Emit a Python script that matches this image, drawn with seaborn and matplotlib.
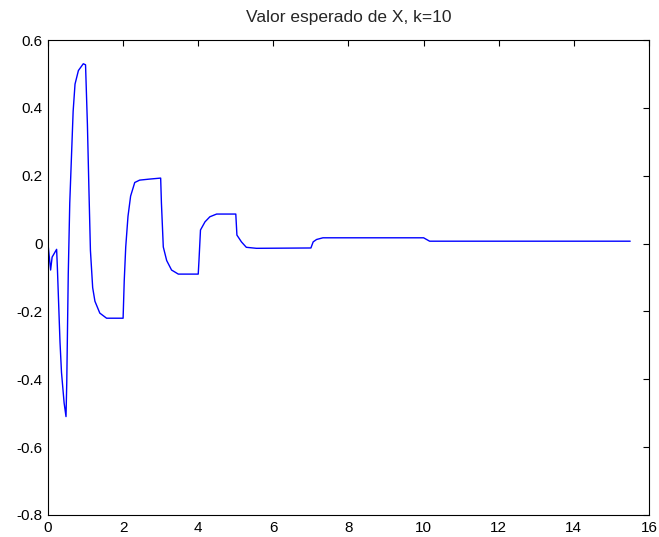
import numpy as np
import pandas as pd
import matplotlib
matplotlib.use('Agg')
import matplotlib.pyplot as plt
import seaborn as sns

# 数据
t = [0, 0.07, 0.11, 0.23, 0.25, 0.32, 0.36, 0.43, 0.48, 0.5, 0.54, 0.58, 0.63,
     0.67, 0.72, 0.81, 0.94, 1.0, 1.05, 1.09, 1.13, 1.19, 1.25, 1.38, 1.56, 2.0,
     2.03, 2.07, 2.13, 2.2, 2.31, 2.44, 2.7, 3.0, 3.02, 3.07, 3.16, 3.29, 3.47,
     4.0, 4.02, 4.06, 4.18, 4.31, 4.49, 5.0, 5.03, 5.15, 5.28, 5.55, 7.0, 7.06,
     7.15, 7.32, 10.0, 10.16, 15.5]
valor = [0, -0.078, -0.04, -0.017, -0.07, -0.29, -0.38, -0.47, -0.51, -0.41,
         -0.09, 0.12, 0.27, 0.39, 0.47, 0.51, 0.53, 0.527, 0.35, 0.16, -0.02,
         -0.13, -0.17, -0.205, -0.22, -0.22, -0.11, -0.01, 0.08, 0.14, 0.18,
         0.187, 0.19, 0.193, 0.12, -0.01, -0.05, -0.078, -0.09, -0.09, -0.05,
         0.04, 0.064, 0.079, 0.087, 0.087, 0.025, 0.005, -0.011, -0.014, -0.013,
         0.005, 0.012, 0.017, 0.017, 0.007, 0.007]

x_ticks = [0, 2, 4, 6, 8, 10, 12, 14, 16]
y_ticks = [-0.8, -0.6, -0.4, -0.2, 0, 0.2, 0.4, 0.6]
y_labels = ['-0.8', '-0.6', '-0.4', '-0.2', '0', '0.2', '0.4', '0.6']

df = pd.DataFrame({'t': t, 'valor': valor})

sns.set_style('white')
plt.rcParams['font.family'] = ['Liberation Sans', 'DejaVu Sans']

fig = plt.figure(figsize=(6.59, 5.37), dpi=100)
ax = fig.add_axes([0.0728, 0.041, 0.912, 0.8845])

sns.lineplot(data=df, x='t', y='valor', sort=False, estimator=None,
             color='#0000ff', linewidth=1.0, ax=ax)

ax.set_xlim(0, 16)
ax.set_ylim(-0.8, 0.6)
ax.set_xticks(x_ticks)
ax.set_xticklabels([str(x) for x in x_ticks])
ax.set_yticks(y_ticks)
ax.set_yticklabels(y_labels)
ax.set_xlabel('')
ax.set_ylabel('')
ax.set_title('Valor esperado de X, k=10', fontsize=12.5, pad=13)

ax.tick_params(direction='in', length=4, width=0.8, labelsize=11,
               top=True, right=True, colors='black')
ax.tick_params(axis='x', pad=4.5)
ax.tick_params(axis='y', pad=4)
for s in ax.spines.values():
    s.set_color('black')
    s.set_linewidth(0.8)

fig.savefig('out.png', dpi=100)
